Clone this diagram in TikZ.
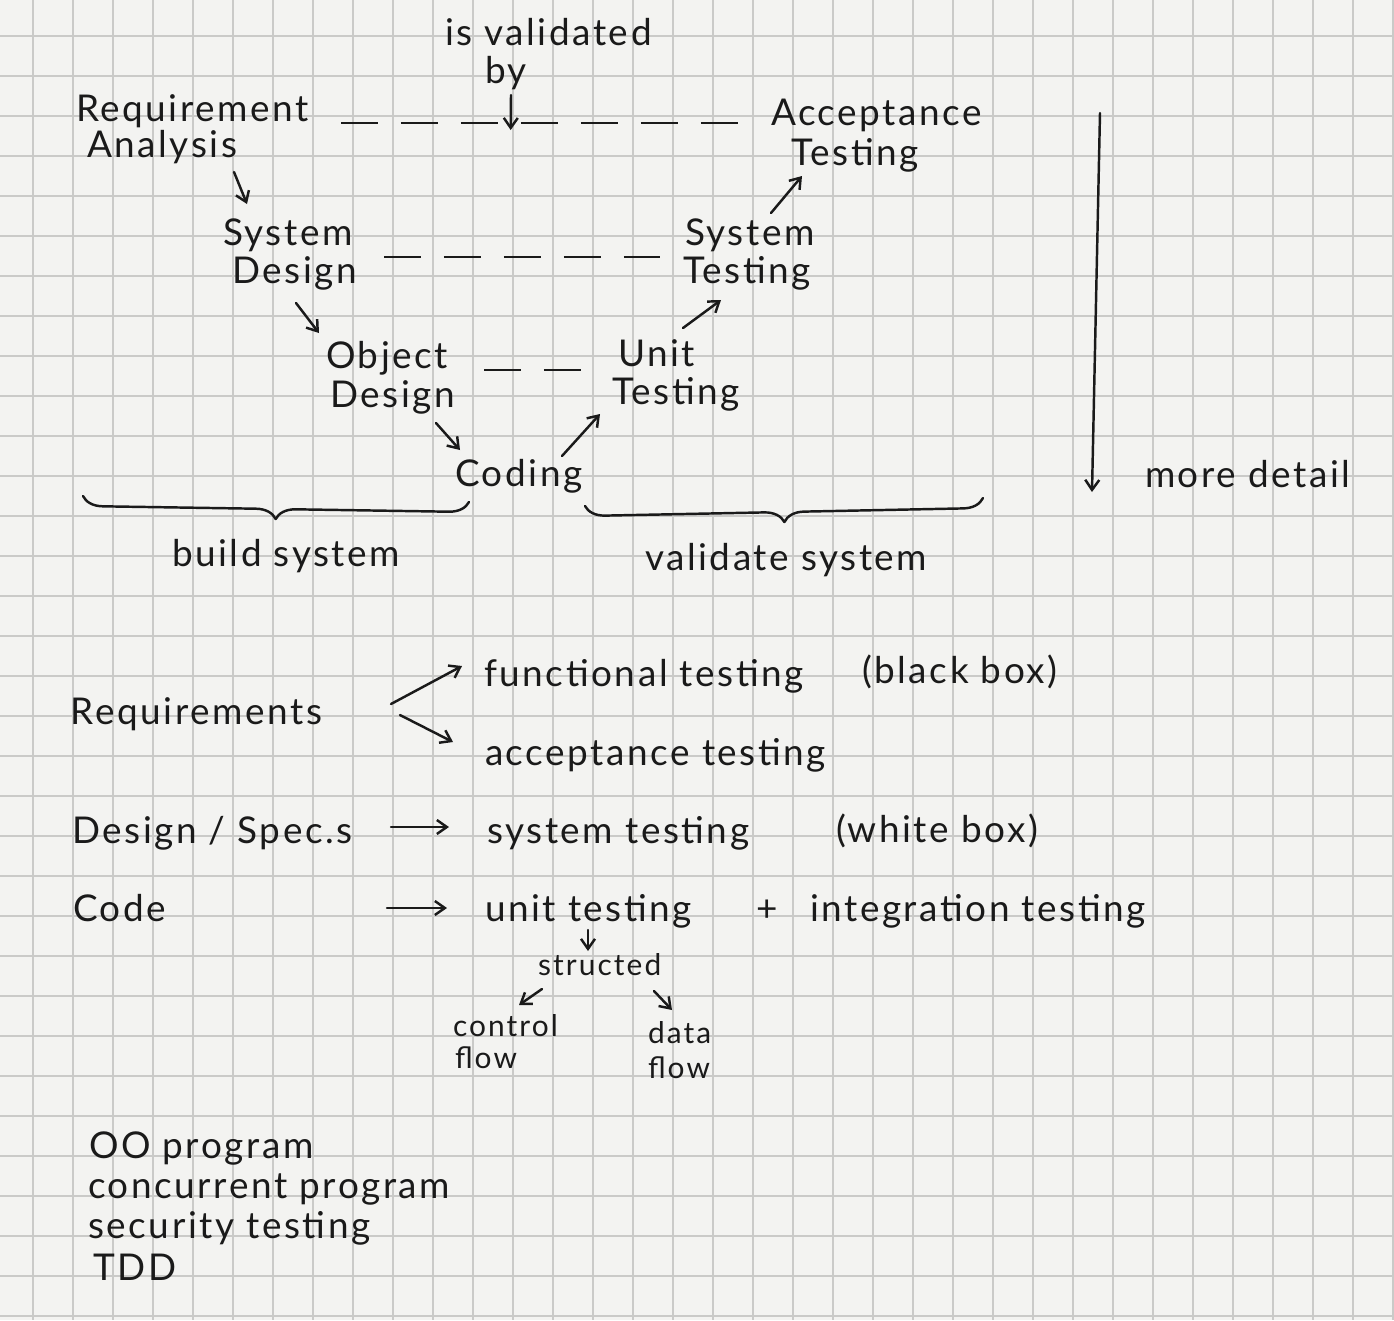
\documentclass[tikz,border=0pt]{standalone}
\usepackage{fontspec}
\setmainfont{Lato}
\newfontfamily\handfont[LetterSpace=7]{Lato}
\usetikzlibrary{arrows.meta,decorations.pathreplacing}
\definecolor{paper}{HTML}{F3F3F1}
\definecolor{gridc}{HTML}{CACAC8}
\definecolor{ink}{HTML}{1A1A1A}
\begin{document}
\begin{tikzpicture}[x=0.02cm,y=-0.02cm,
  txt/.style={anchor=base west, inner sep=0pt, outer sep=0pt, text=ink, font=\handfont\fontsize{21}{23}\selectfont},
  sml/.style={txt, font=\handfont\fontsize{17}{19}\selectfont},
  arr/.style={draw=ink, line width=1.4pt, line cap=round, -{Straight Barb[length=0.2cm,width=0.28cm]}},
  vdash/.style={draw=ink, line width=1.4pt, dash pattern=on 0.75cm off 0.45cm},
  pen/.style={draw=ink, line width=1.4pt, line cap=round, line join=round},
  gridline/.style={draw=gridc, line width=0.8pt}
]
\fill[paper] (0,0) rectangle (1394,1320);
\useasboundingbox (0,0) rectangle (1394,1320);
\foreach \i in {0,...,34} \draw[gridline] ({33+40*\i},0) -- ({33+40*\i},1320);
\foreach \j in {0,...,32} \draw[gridline] (0,{36+40*\j}) -- (1394,{36+40*\j});

% ---- top: V model ----
\node[txt] (val) at (445,45) {is validated};
\node[txt] (by) at (485,83) {by};
\node[txt] (ra1) at (76,121) {Requirement};
\node[txt] (ra2) at (87,157) {Analysis};
\node[txt] (sd1) at (223,245) {System};
\node[txt] (sd2) at (232,283) {Design};
\node[txt] (od1) at (326,368) {Object};
\node[txt] (od2) at (330,407) {Design};
\node[txt] (cod) at (455,486) {Coding};
\node[txt] (ut1) at (618,366) {Unit};
\node[txt] (ut2) at (612,404) {Testing};
\node[txt] (st1) at (685,245) {System};
\node[txt] (st2) at (683,283) {Testing};
\node[txt] (at1) at (771,125) {Acceptance};
\node[txt] (at2) at (791,165) {Testing};
\node[txt] (md) at (1145,487) {more detail};
\node[txt] (bs) at (172,566) {build system};
\node[txt] (vs) at (645,570) {validate system};

\draw[arr] ([shift={(147,15)}]ra2.base west) -- ([shift={(24,-41)}]sd1.base west);
\draw[arr] ([shift={(64,20)}]sd2.base west) -- ([shift={(-7,-35)}]od1.base west);
\draw[arr] ([shift={(106,16)}]od2.base west) -- ([shift={(5,-36)}]cod.base west);
\draw[arr] ([shift={(107,-30)}]cod.base west) -- ([shift={(-12,10)}]ut2.base west);
\draw[arr] ([shift={(65,-38)}]ut1.base west) -- ([shift={(38,17)}]st2.base west);
\draw[arr] ([shift={(86,-32)}]st1.base west) -- ([shift={(11,11)}]at2.base west);

\draw[vdash] ([shift={(265,2)}]ra1.base west) -- coordinate[pos=0.42] (dm) ([shift={(-26,-2)}]at1.base west);
\draw[vdash] ([shift={(161,12)}]sd1.base west) -- ([shift={(-25,12)}]st1.base west);
\draw[vdash] ([shift={(158,2)}]od1.base west) -- ([shift={(-29,4)}]ut1.base west);
\draw[arr] ([shift={(26,12)}]by.base west) -- ([yshift=-4]dm);

\coordinate (vtop) at (1100,113);
\coordinate (vbot) at (1092,492);
\draw[arr] (vtop) -- (vbot);

\coordinate (lb1) at (83,496);
\coordinate (lb2) at (469,502);
\coordinate (rb1) at (585,506);
\coordinate (rb2) at (983,498);
\draw[pen, decorate, decoration={brace, mirror, amplitude=0.4cm}] (lb1) -- (lb2);
\draw[pen, decorate, decoration={brace, mirror, amplitude=0.4cm}] (rb1) -- (rb2);

% ---- bottom: notes ----
\node[txt] (req) at (71,724) {Requirements};
\node[txt] (ft) at (484,686) {functional testing};
\node[txt] (bb) at (862,683) {(black box)};
\node[txt] (act) at (485,765) {acceptance testing};
\node[txt] (ds) at (72,843) {Design / Spec.s};
\node[txt] (syt) at (487,843) {system testing};
\node[txt] (wb) at (836,842) {(white box)};
\node[txt] (code) at (73,921) {Code};
\node[txt] (unt) at (485,921) {unit testing};
\node[txt] (plus) at (756,921) {+};
\node[txt] (it) at (810,921) {integration testing};
\node[sml] (str) at (538,975) {structed};
\node[sml] (cf1) at (453,1036) {control};
\node[sml] (cf2) at (455,1068) {flow};
\node[sml] (df1) at (648,1043) {data};
\node[sml] (df2) at (648,1078) {flow};
\node[txt] (oo) at (89,1158) {OO program};
\node[txt] (cp) at (88,1198) {concurrent program};
\node[txt] (sec) at (88,1238) {security testing};
\node[txt] (tdd) at (93,1280) {TDD};

\draw[arr] ([shift={(320,-20)}]req.base west) -- ([shift={(-22,-20)}]ft.base west);
\draw[arr] ([shift={(329,-9)}]req.base west) -- ([shift={(-32,-23)}]act.base west);
\draw[arr] ([shift={(319,-16)}]ds.base west) -- ([shift={(-38,-16)}]syt.base west);
\draw[arr] ([shift={(314,-13)}]code.base west) -- ([shift={(-38,-13)}]unt.base west);
\draw[arr] ([shift={(103,9)}]unt.base west) -- ([shift={(50,-24)}]str.base west);
\draw[arr] ([shift={(4,14)}]str.base west) -- ([shift={(66,-31)}]cf1.base west);
\draw[arr] ([shift={(116,16)}]str.base west) -- ([shift={(24,-33)}]df1.base west);
\end{tikzpicture}
\end{document}
